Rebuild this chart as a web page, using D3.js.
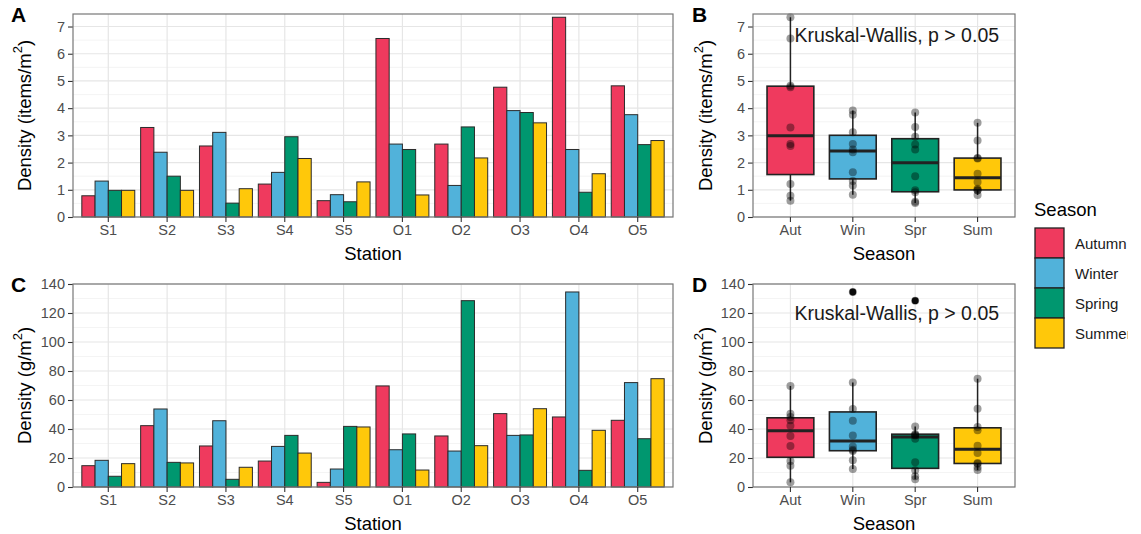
<!DOCTYPE html>
<html>
<head>
<meta charset="utf-8">
<script src="https://cdn.jsdelivr.net/npm/d3@7"></script>
<style>
  html, body { margin: 0; padding: 0; background: #fff; }
  svg { display: block; }
  text { font-family: "Liberation Sans", Arial, Helvetica, sans-serif; }
</style>
</head>
<body>
<svg id="chart" width="1141" height="534"></svg>
<script>
// ---------------- DATA ----------------
const stations = ["S1", "S2", "S3", "S4", "S5", "O1", "O2", "O3", "O4", "O5"];
const seasons = ["Autumn", "Winter", "Spring", "Summer"];
const seasonShort = ["Aut", "Win", "Spr", "Sum"];
const seasonColors = ["#EF3A5E", "#51B2DA", "#00976F", "#FFC80A"];

// Panel A: density (items/m2) per station, one array per season
const itemsAutumn = [0.78, 3.29, 2.61, 1.21, 0.60, 6.56, 2.68, 4.77, 7.34, 4.82];
const itemsWinter = [1.32, 2.38, 3.11, 1.64, 0.82, 2.68, 1.16, 3.91, 2.48, 3.76];
const itemsSpring = [0.98, 1.50, 0.51, 2.95, 0.56, 2.48, 3.31, 3.84, 0.91, 2.66];
const itemsSummer = [0.98, 0.98, 1.04, 2.15, 1.29, 0.81, 2.17, 3.46, 1.59, 2.81];

// Panel C: density (g/m2) per station, one array per season
const massAutumn = [14.7, 42.3, 28.3, 17.9, 3.2, 69.7, 35.2, 50.6, 48.3, 46.0];
const massWinter = [18.4, 53.8, 45.7, 28.0, 12.4, 25.7, 24.8, 35.6, 134.5, 72.0];
const massSpring = [7.4, 17.0, 5.3, 35.6, 41.8, 36.6, 128.5, 35.9, 11.5, 33.3];
const massSummer = [16.1, 16.6, 13.6, 23.4, 41.4, 11.7, 28.5, 54.0, 39.1, 74.7];

const itemsTicks = [0, 1, 2, 3, 4, 5, 6, 7];
const massTicks = [0, 20, 40, 60, 80, 100, 120, 140];
const itemsMax = 7.46;
const massMax = 140;
const testLabel = "Kruskal-Wallis, p > 0.05";
const testLabelY = [6.69, 120];

// ---------------- HELPERS ----------------
const svg = d3.select("#chart");
const FONT = '"Liberation Sans", Arial, Helvetica, sans-serif';
const TICK_COL = "#4D4D4D";

function yTitle(g, x, yc, unitBefore) {
  const t = g.append("text")
    .attr("transform", `translate(${x},${yc}) rotate(-90)`)
    .attr("text-anchor", "middle")
    .attr("dominant-baseline", "central")
    .attr("font-size", 18.5)
    .attr("fill", "#000");
  t.append("tspan").text(unitBefore);
  t.append("tspan").attr("dy", -7).attr("font-size", 13).text("2");
  t.append("tspan").attr("dy", 7).text(")");
}

function panelFrame(g, x0, x1, y, ticks, minor, xCenters, letter, titleX, yLabel) {
  const [top, bottom] = y.range().slice().reverse();
  g.append("g").selectAll("line").data(minor).join("line")
    .attr("x1", x0).attr("x2", x1)
    .attr("y1", d => y(d)).attr("y2", d => y(d))
    .attr("stroke", "#EFEFEF").attr("stroke-width", 0.7);
  g.append("g").selectAll("line").data(ticks).join("line")
    .attr("x1", x0).attr("x2", x1)
    .attr("y1", d => y(d)).attr("y2", d => y(d))
    .attr("stroke", "#E6E6E6").attr("stroke-width", 1.2);
  g.append("g").selectAll("line").data(xCenters).join("line")
    .attr("x1", d => d).attr("x2", d => d)
    .attr("y1", top).attr("y2", bottom)
    .attr("stroke", "#E6E6E6").attr("stroke-width", 1.2);
  const ya = g.append("g").attr("transform", `translate(${x0},0)`)
    .call(d3.axisLeft(y).tickValues(ticks).tickSize(5).tickPadding(3).tickFormat(d3.format("d")));
  ya.select(".domain").remove();
  ya.selectAll(".tick line").attr("stroke", "#333").attr("stroke-width", 1.1);
  ya.selectAll(".tick text").attr("fill", TICK_COL).attr("font-size", 14.5).attr("font-family", FONT);
  g.append("text").attr("x", titleX.letterX).attr("y", top + 8)
    .attr("font-size", 21).attr("font-weight", "bold").attr("fill", "#000")
    .text(letter);
  yTitle(g, titleX.ytitleX, (top + bottom) / 2, yLabel);
}

function xAxis(g, xBand, y, labels, title, tickLabelFn) {
  const bottom = y.range()[0];
  const xa = g.append("g").attr("transform", `translate(0,${bottom})`)
    .call(d3.axisBottom(xBand).tickSize(5).tickPadding(3).tickFormat(tickLabelFn));
  xa.select(".domain").remove();
  xa.selectAll(".tick line").attr("stroke", "#333").attr("stroke-width", 1.1);
  xa.selectAll(".tick text").attr("fill", TICK_COL).attr("font-size", 14.5).attr("font-family", FONT);
  const r = xBand.range();
  g.append("text").attr("x", (r[0] + r[1]) / 2).attr("y", bottom + 36)
    .attr("text-anchor", "middle").attr("dominant-baseline", "central")
    .attr("font-size", 18.5).attr("fill", "#000").text(title);
}

function border(g, x0, x1, y) {
  const [bottom, top] = y.range();
  g.append("rect").attr("x", x0).attr("y", top).attr("width", x1 - x0).attr("height", bottom - top)
    .attr("fill", "none").attr("stroke", "#777").attr("stroke-width", 1.2);
}

// ---------------- BAR PANELS ----------------
function barPanel(top, bottom, yMax, ticks, minorStep, series, letter, yLabel) {
  const x0 = 73, x1 = 673;
  const g = svg.append("g");
  const y = d3.scaleLinear().domain([0, yMax]).range([bottom, top]);
  const x = d3.scaleBand().domain(stations).range([x0, x1]).paddingInner(0.1).paddingOuter(0.15);
  const xi = d3.scaleBand().domain(seasons).range([0, x.bandwidth()]);
  const minor = d3.range(minorStep, yMax, minorStep * 2);
  const centers = stations.map(s => x(s) + x.bandwidth() / 2);
  panelFrame(g, x0, x1, y, ticks, minor, centers, letter, { letterX: 11, ytitleX: 24 }, yLabel);

  const rows = [];
  stations.forEach((s, i) => seasons.forEach((se, j) => rows.push({ s, se, j, v: series[j][i] })));
  g.append("g").selectAll("rect").data(rows).join("rect")
    .attr("x", d => x(d.s) + xi(d.se))
    .attr("width", xi.bandwidth())
    .attr("y", d => y(d.v))
    .attr("height", d => y(0) - y(d.v))
    .attr("fill", d => seasonColors[d.j])
    .attr("stroke", "#2b2b2b").attr("stroke-width", 1);
  border(g, x0, x1, y);
  xAxis(g, x, y, stations, "Station", d => d);
}

// ---------------- BOX PANELS ----------------
function boxPanel(top, bottom, yMax, ticks, minorStep, series, letter, yLabel, labelY) {
  const x0 = 753, x1 = 1015;
  const g = svg.append("g");
  const y = d3.scaleLinear().domain([0, yMax]).range([bottom, top]);
  const x = d3.scaleBand().domain(seasons).range([x0, x1]).paddingInner(0.25).paddingOuter(0.225);
  const minor = d3.range(minorStep, yMax, minorStep * 2);
  const centers = seasons.map(s => x(s) + x.bandwidth() / 2);
  panelFrame(g, x0, x1, y, ticks, minor, centers, letter, { letterX: 692, ytitleX: 705 }, yLabel);

  seasons.forEach((se, j) => {
    const vals = series[j].slice().sort(d3.ascending);
    const q1 = d3.quantile(vals, 0.25), med = d3.quantile(vals, 0.5), q3 = d3.quantile(vals, 0.75);
    const iqr = q3 - q1;
    const lo = d3.min(vals.filter(v => v >= q1 - 1.5 * iqr));
    const hi = d3.max(vals.filter(v => v <= q3 + 1.5 * iqr));
    const outl = vals.filter(v => v < q1 - 1.5 * iqr || v > q3 + 1.5 * iqr);
    const cx = x(se) + x.bandwidth() / 2;
    const bg = g.append("g");
    bg.append("line").attr("x1", cx).attr("x2", cx).attr("y1", y(hi)).attr("y2", y(q3))
      .attr("stroke", "#222").attr("stroke-width", 1.5);
    bg.append("line").attr("x1", cx).attr("x2", cx).attr("y1", y(q1)).attr("y2", y(lo))
      .attr("stroke", "#222").attr("stroke-width", 1.5);
    bg.append("rect").attr("x", x(se)).attr("width", x.bandwidth())
      .attr("y", y(q3)).attr("height", y(q1) - y(q3))
      .attr("fill", seasonColors[j]).attr("stroke", "#222").attr("stroke-width", 1.6);
    bg.append("line").attr("x1", x(se)).attr("x2", x(se) + x.bandwidth())
      .attr("y1", y(med)).attr("y2", y(med)).attr("stroke", "#222").attr("stroke-width", 3);
    bg.selectAll("circle.out").data(outl).join("circle").attr("class", "out")
      .attr("cx", cx).attr("cy", d => y(d)).attr("r", 3.4).attr("fill", "#111");
    bg.selectAll("circle.pt").data(series[j]).join("circle").attr("class", "pt")
      .attr("cx", cx).attr("cy", d => y(d)).attr("r", 4)
      .attr("fill", "#000").attr("fill-opacity", 0.38);
  });
  border(g, x0, x1, y);
  xAxis(g, x, y, seasons, "Season", d => seasonShort[seasons.indexOf(d)]);
  g.append("text").attr("x", x("Autumn") + x.bandwidth() / 2 + 4).attr("y", y(labelY))
    .attr("dominant-baseline", "central").attr("font-size", 19.5).attr("fill", "#1a1a1a")
    .text(testLabel);
}

barPanel(14, 217, itemsMax, itemsTicks, 0.5,
  [itemsAutumn, itemsWinter, itemsSpring, itemsSummer], "A", "Density (items/m");
boxPanel(14, 217, itemsMax, itemsTicks, 0.5,
  [itemsAutumn, itemsWinter, itemsSpring, itemsSummer], "B", "Density (items/m", testLabelY[0]);
barPanel(284, 487, massMax, massTicks, 10,
  [massAutumn, massWinter, massSpring, massSummer], "C", "Density (g/m");
boxPanel(284, 487, massMax, massTicks, 10,
  [massAutumn, massWinter, massSpring, massSummer], "D", "Density (g/m", testLabelY[1]);

// ---------------- LEGEND ----------------
const defs = svg.append("defs");
defs.append("clipPath").attr("id", "legclip").append("rect")
  .attr("x", 1020).attr("y", 180).attr("width", 108).attr("height", 200);
const leg = svg.append("g").attr("clip-path", "url(#legclip)");
leg.append("text").attr("x", 1034).attr("y", 209).attr("dominant-baseline", "central")
  .attr("font-size", 18.5).attr("fill", "#000").text("Season");
const keyH = 30, keyW = 29, keyTop = 228;
leg.selectAll("rect.key").data(seasons).join("rect").attr("class", "key")
  .attr("x", 1035).attr("y", (d, i) => keyTop + i * keyH)
  .attr("width", keyW).attr("height", keyH)
  .attr("fill", (d, i) => seasonColors[i]).attr("stroke", "#222").attr("stroke-width", 1.3);
leg.selectAll("text.lab").data(seasons).join("text").attr("class", "lab")
  .attr("x", 1075).attr("y", (d, i) => keyTop + i * keyH + keyH / 2)
  .attr("dominant-baseline", "central").attr("font-size", 15).attr("fill", "#1a1a1a")
  .text(d => d);
</script>
</body>
</html>
